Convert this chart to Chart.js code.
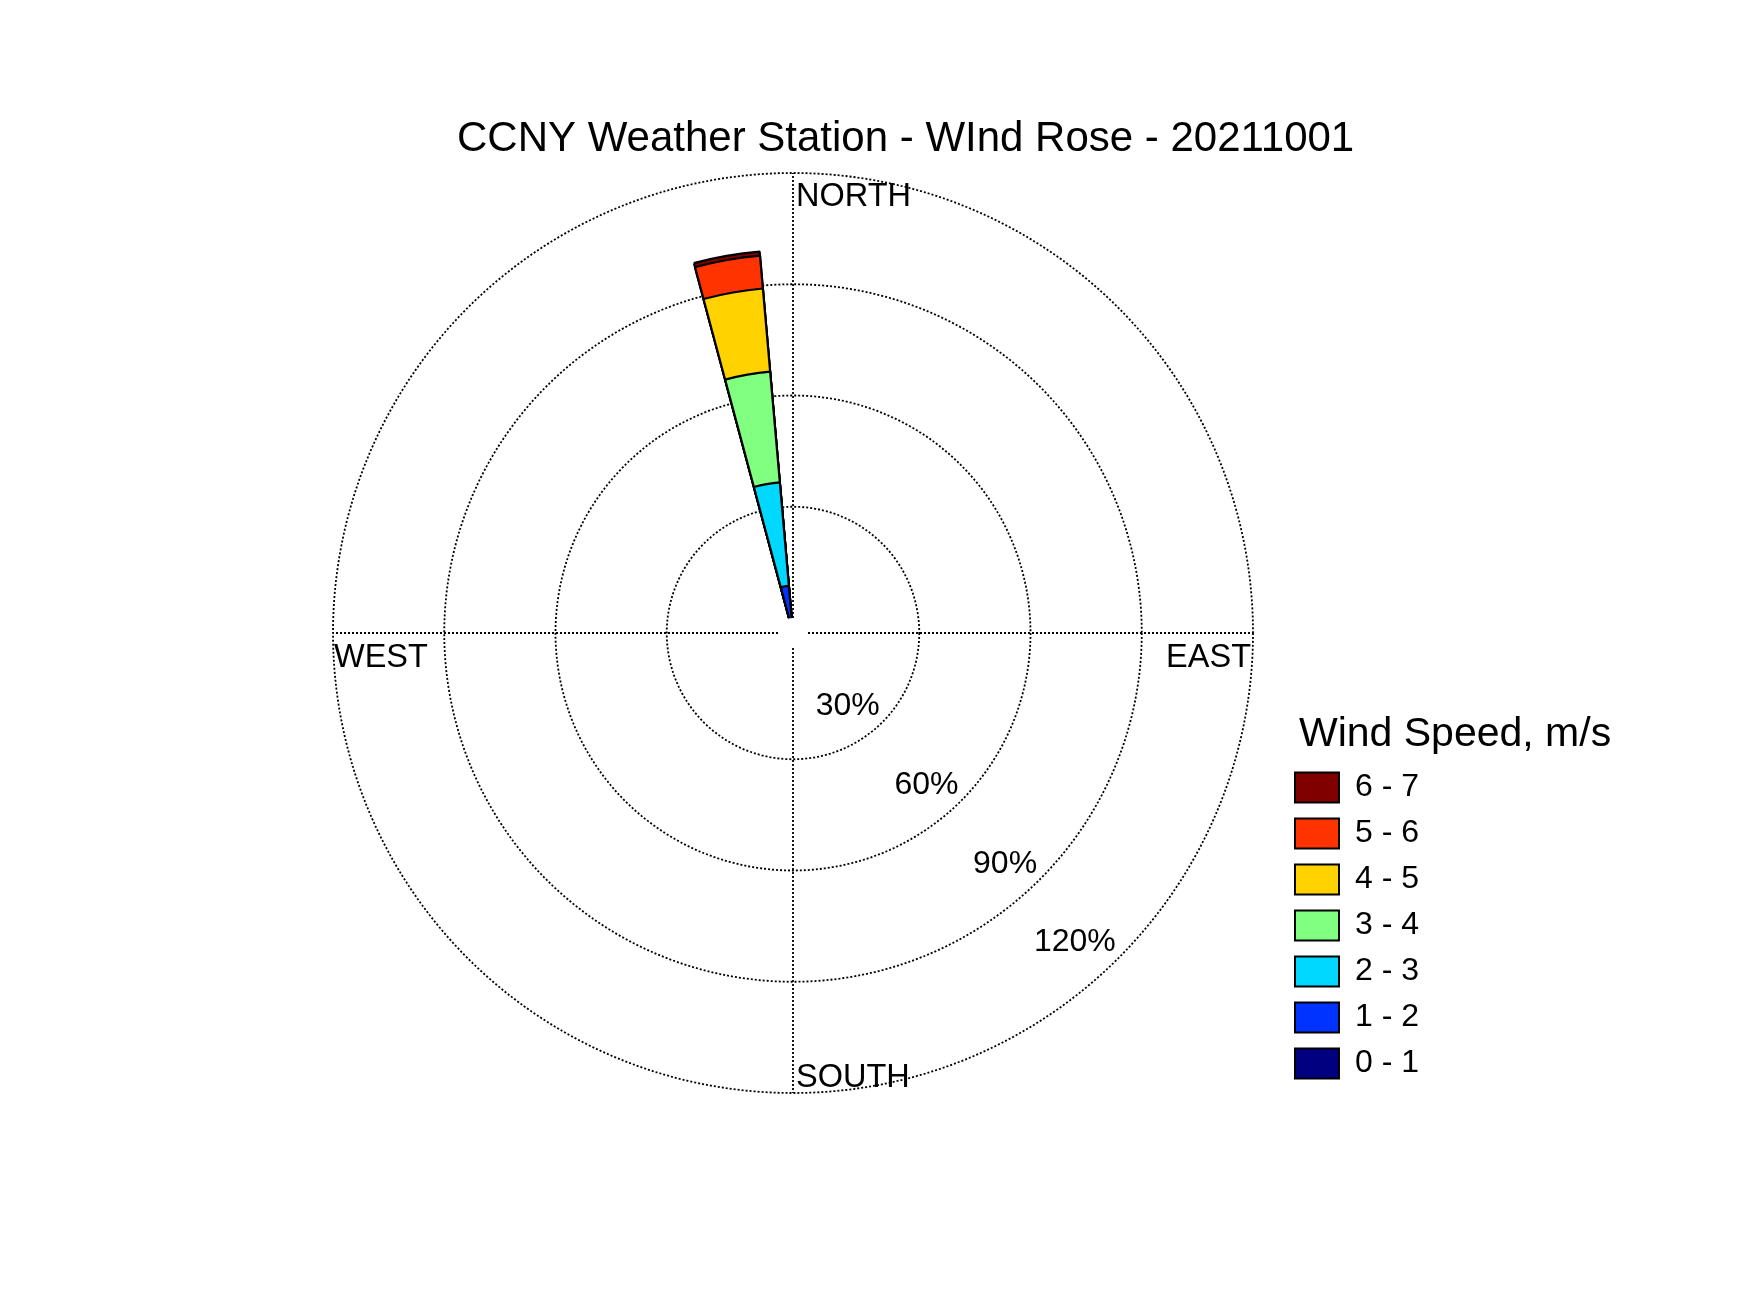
<!DOCTYPE html>
<html>
<head>
<meta charset="utf-8">
<title>CCNY Weather Station - Wind Rose</title>
<style>
  html, body { margin: 0; padding: 0; background: #ffffff; overflow: hidden; }
  #wrap { width: 1750px; height: 1313px; }
  canvas { display: block; }
</style>
<script src="https://cdn.jsdelivr.net/npm/chart.js@4.4.0/dist/chart.umd.min.js"></script>
</head>
<body>
<div id="wrap"><canvas id="rose" width="1750" height="1313"></canvas></div>
<script>
// ---------------- data ----------------
const chartTitle = 'CCNY Weather Station - WInd Rose - 20211001';
const legendTitle = 'Wind Speed, m/s';

// wind direction bins (degrees clockwise from north), 10° wide
const directions = [0, 10, 20, 30, 40, 50, 60, 70, 80, 90, 100, 110,
                    120, 130, 140, 150, 160, 170, 180, 190, 200, 210, 220, 230,
                    240, 250, 260, 270, 280, 290, 300, 310, 320, 330, 340, 350];

// speed classes
const speedBins = ['0 - 1', '1 - 2', '2 - 3', '3 - 4', '4 - 5', '5 - 6', '6 - 7'];
const speedColors = ['#000080', '#0033ff', '#00d8ff', '#80ff80', '#ffd200', '#ff3300', '#800000'];

// frequency (%) per direction bin for each speed class
const freq_0_1 = [0,0,0,0,0,0,0,0,0,0,0,0, 0,0,0,0,0,0,0,0,0,0,0,0, 0,0,0,0,0,0,0,0,0,0,0,0];
const freq_1_2 = [0,0,0,0,0,0,0,0,0,0,0,0, 0,0,0,0,0,0,0,0,0,0,0,0, 0,0,0,0,0,0,0,0,0,0,0,8.7];
const freq_2_3 = [0,0,0,0,0,0,0,0,0,0,0,0, 0,0,0,0,0,0,0,0,0,0,0,0, 0,0,0,0,0,0,0,0,0,0,0,28.0];
const freq_3_4 = [0,0,0,0,0,0,0,0,0,0,0,0, 0,0,0,0,0,0,0,0,0,0,0,0, 0,0,0,0,0,0,0,0,0,0,0,30.0];
const freq_4_5 = [0,0,0,0,0,0,0,0,0,0,0,0, 0,0,0,0,0,0,0,0,0,0,0,0, 0,0,0,0,0,0,0,0,0,0,0,22.5];
const freq_5_6 = [0,0,0,0,0,0,0,0,0,0,0,0, 0,0,0,0,0,0,0,0,0,0,0,0, 0,0,0,0,0,0,0,0,0,0,0,8.9];
const freq_6_7 = [0,0,0,0,0,0,0,0,0,0,0,0, 0,0,0,0,0,0,0,0,0,0,0,0, 0,0,0,0,0,0,0,0,0,0,0,1.1];
const freqBySpeed = [freq_0_1, freq_1_2, freq_2_3, freq_3_4, freq_4_5, freq_5_6, freq_6_7];

// radial rings and their labels
const ringTicks = [30, 60, 90, 120];
const ringLabels = ['30%', '60%', '90%', '120%'];
const compassLabels = ['NORTH', 'EAST', 'SOUTH', 'WEST'];

// ---------------- build ----------------
const FONT = '"Liberation Sans", Arial, Helvetica, sans-serif';
Chart.defaults.font.family = FONT;
Chart.defaults.color = '#000';

// stacked rose: each class drawn as a cumulative sector (smaller ones drawn on top)
const cumulative = [];
freqBySpeed.forEach((arr, k) => {
  cumulative.push(arr.map((v, i) => (k === 0 ? v : cumulative[k - 1][i] + v)));
});

const datasets = speedBins.map((label, k) => ({
  label: label,
  data: cumulative[k],
  backgroundColor: (c) => (c.raw > 0 ? speedColors[k] : 'rgba(0,0,0,0)'),
  borderColor: '#000000',
  borderWidth: (c) => (c.raw > 0 ? 2.2 : 0),
  borderAlign: 'center'
}));

const HUB_VALUE = 0;

const roseDecor = {
  id: 'roseDecor',
  beforeDatasetsDraw(chart) {
    const s = chart.scales.r;
    const ctx = chart.ctx;
    const r0 = s.getDistanceFromCenterForValue(HUB_VALUE);
    const r1 = s.getDistanceFromCenterForValue(s.max);
    ctx.save();
    ctx.strokeStyle = '#000';
    ctx.lineWidth = 1.8;
    ctx.setLineDash([2, 2]);
    [0, 90, 180, 270].forEach((deg) => {
      const t = deg * Math.PI / 180;
      ctx.beginPath();
      ctx.moveTo(s.xCenter + r0 * Math.sin(t), s.yCenter - r0 * Math.cos(t));
      ctx.lineTo(s.xCenter + r1 * Math.sin(t), s.yCenter - r1 * Math.cos(t));
      ctx.stroke();
    });
    ctx.restore();
  },
  afterDatasetsDraw(chart) {
    const s = chart.scales.r;
    const ctx = chart.ctx;
    const cx = s.xCenter, cy = s.yCenter;
    const r0 = s.getDistanceFromCenterForValue(HUB_VALUE);
    const R = s.getDistanceFromCenterForValue(s.max);
    ctx.save();
    // white hub
    ctx.fillStyle = '#fff';
    ctx.beginPath();
    ctx.arc(cx, cy, r0, 0, Math.PI * 2);
    ctx.fill();

    // compass labels
    ctx.fillStyle = '#000';
    ctx.font = '32.5px ' + FONT;
    ctx.textBaseline = 'alphabetic';
    ctx.textAlign = 'left';
    ctx.fillText(compassLabels[0], cx + 3, cy - R + 33);
    ctx.fillText(compassLabels[2], cx + 3, cy + R - 6.5);
    ctx.fillText(compassLabels[3], cx - R + 1, cy + 33.5);
    ctx.textAlign = 'right';
    ctx.fillText(compassLabels[1], cx + R - 2, cy + 33.5);

    // ring labels: right-aligned just inside each ring on the south-east diagonal
    ctx.font = '32px ' + FONT;
    ctx.textAlign = 'right';
    ctx.textBaseline = 'alphabetic';
    const a = 135 * Math.PI / 180;
    ringTicks.forEach((v, i) => {
      const d = s.getDistanceFromCenterForValue(v);
      const px = cx + d * Math.sin(a);
      const py = cy - d * Math.cos(a);
      ctx.fillText(ringLabels[i], px - 2.5, py - 7);
    });
    ctx.restore();
  },
  afterDraw(chart) {
    // legend heading, placed above the first legend entry
    const lg = chart.legend;
    if (!lg || !lg.legendHitBoxes || !lg.legendHitBoxes.length) return;
    const first = lg.legendHitBoxes[0];
    const ctx = chart.ctx;
    ctx.save();
    ctx.fillStyle = '#000';
    ctx.font = '41px ' + FONT;
    ctx.textAlign = 'left';
    ctx.textBaseline = 'alphabetic';
    ctx.fillText(legendTitle, first.left + 4, first.top - 25.5);
    ctx.restore();
  }
};

new Chart(document.getElementById('rose'), {
  type: 'polarArea',
  data: {
    labels: directions.map((d) => d + '°'),
    datasets: datasets
  },
  options: {
    responsive: false,
    animation: false,
    events: [],
    devicePixelRatio: 1,
    layout: { padding: { top: 114.5, bottom: 219.6, left: 307, right: 245.8 } },
    scales: {
      r: {
        type: 'radialLinear',
        min: -4.05,
        max: 120,
        startAngle: -5,
        ticks: { display: false },
        angleLines: { display: false },
        pointLabels: { display: false },
        grid: {
          circular: true,
          lineWidth: 1.8,
          color: (c) => (c.tick && c.tick.value > 0 ? '#000000' : 'rgba(0,0,0,0)')
        },
        border: { dash: [2, 2] },
        afterBuildTicks: (scale) => {
          scale.ticks = [scale.min].concat(ringTicks).map((v) => ({ value: v }));
        }
      }
    },
    plugins: {
      tooltip: { enabled: false },
      title: {
        display: true,
        text: chartTitle,
        color: '#000',
        font: { family: FONT, size: 42, weight: 'normal' },
        padding: { top: 0, bottom: 8.5 }
      },
      subtitle: {
        display: true,
        text: '',
        position: 'right',
        fullSize: false,
        padding: 0,
        font: { size: 10, lineHeight: '75.2px' }
      },
      legend: {
        display: true,
        position: 'right',
        align: 'end',
        fullSize: false,
        reverse: true,
        onClick: null,
        labels: {
          boxWidth: 44,
          boxHeight: 30,
          padding: 14,
          color: '#000',
          font: { family: FONT, size: 32 },
          generateLabels: (chart) => chart.data.datasets.map((ds, i) => ({
            text: ds.label,
            fillStyle: speedColors[i],
            strokeStyle: '#000000',
            lineWidth: 2,
            hidden: false,
            datasetIndex: i
          }))
        }
      }
    }
  },
  plugins: [roseDecor]
});
</script>
</body>
</html>
